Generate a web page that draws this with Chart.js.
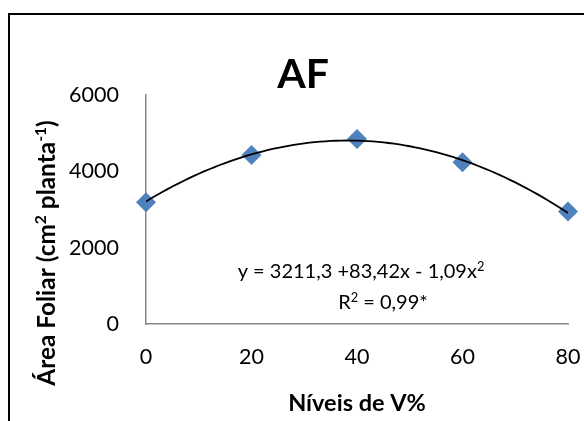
<!DOCTYPE html>
<html>
<head>
<meta charset="utf-8">
<script src="https://cdn.jsdelivr.net/npm/chart.js@4"></script>
<style>
  body { margin: 0; background: #fff; }
  canvas { display: block; }
</style>
</head>
<body>
<canvas id="grafica" width="584" height="421"></canvas>
<script>
// Níveis de saturação por bases (V%) e área foliar medida
const niveisV = [0, 20, 40, 60, 80];
const areaFoliar = [3190, 4430, 4850, 4240, 2950];

// Coeficientes da regressão quadrática: a + b·x + c·x²
const coeficientes = [3211.3, 83.42, -1.09];
const r2 = "0,99*";

const ticksX = [0, 20, 40, 60, 80];
const ticksY = [0, 2000, 4000, 6000];

const virgula = v => String(v).replace(".", ",");

// curva ajustada, amostrada a cada 1 unidade de V%
const curva = [];
for (let x = niveisV[0]; x <= niveisV[niveisV.length - 1]; x++) {
    curva.push({ x: x, y: coeficientes[0] + coeficientes[1] * x + coeficientes[2] * x * x });
}

const pontos = niveisV.map((v, i) => ({ x: v, y: areaFoliar[i] }));

// desenha um texto com partes sobrescritas, a partir de x (alinhado à esquerda)
function textoComExpoente(ctx, partes, x, y, tam, peso) {
    let pos = x;
    partes.forEach(p => {
        const t = p.sup ? tam * 0.64 : tam;
        ctx.font = `${peso} ${t}px Lato`;
        ctx.fillText(p.t, pos, p.sup ? y - tam * 0.36 : y);
        pos += ctx.measureText(p.t).width;
    });
}

function larguraPartes(ctx, partes, tam, peso) {
    let w = 0;
    partes.forEach(p => {
        ctx.font = `${peso} ${p.sup ? tam * 0.64 : tam}px Lato`;
        w += ctx.measureText(p.t).width;
    });
    return w;
}

const rotulos = {
    id: "rotulos",
    beforeDraw(chart) {
        const ctx = chart.ctx;
        ctx.save();
        ctx.fillStyle = "#fff";
        ctx.fillRect(0, 0, chart.width, chart.height);
        // moldura do gráfico
        ctx.strokeStyle = "#000";
        ctx.lineWidth = 2;
        ctx.beginPath();
        ctx.moveTo(9, chart.height + 5);
        ctx.lineTo(9, 14);
        ctx.lineTo(chart.width + 5, 14);
        ctx.stroke();
        ctx.restore();
    },
    afterDraw(chart) {
        const ctx = chart.ctx;
        const area = chart.chartArea;
        ctx.save();
        ctx.fillStyle = "#000";
        ctx.textBaseline = "alphabetic";

        // título
        ctx.font = "bold 41px Lato";
        ctx.textAlign = "center";
        ctx.fillText("AF", 303, 88);

        // título do eixo x
        ctx.font = "bold 23.5px Lato";
        ctx.fillText("Níveis de V%", (area.left + area.right) / 2, 411);

        // título do eixo y, girado
        ctx.textAlign = "left";
        const partesY = [
            { t: "Área Foliar (cm" }, { t: "2", sup: true },
            { t: " planta" }, { t: "-1", sup: true }, { t: ")" }
        ];
        const wy = larguraPartes(ctx, partesY, 24.4, "bold");
        ctx.translate(55, 253);
        ctx.rotate(-Math.PI / 2);
        textoComExpoente(ctx, partesY, -wy / 2, 0, 24.4, "bold");
        ctx.setTransform(1, 0, 0, 1, 0, 0);

        // equação e R²
        const eq = [
            { t: `y = ${virgula(coeficientes[0])} +${virgula(coeficientes[1])}x - ${virgula(-coeficientes[2])}x` },
            { t: "2", sup: true }
        ];
        const linhaR = [{ t: "R" }, { t: "2", sup: true }, { t: " = " + r2 }];
        const w1 = larguraPartes(ctx, eq, 20, "normal");
        const w2 = larguraPartes(ctx, linhaR, 20, "normal");
        textoComExpoente(ctx, eq, 361 - w1 / 2, 278, 20, "normal");
        textoComExpoente(ctx, linhaR, 383 - w2 / 2, 309, 20, "normal");
        ctx.restore();
    }
};

const fonteTicks = { family: "Lato", size: 21.5 };

new Chart(document.getElementById("grafica").getContext("2d"), {
    type: "scatter",
    data: {
        datasets: [
            {
                label: "Ajuste",
                data: curva,
                showLine: true,
                borderColor: "#000",
                borderWidth: 1.8,
                pointRadius: 0,
                fill: false,
                order: 0
            },
            {
                label: "AF",
                data: pontos,
                pointStyle: "rectRot",
                pointRadius: 10,
                backgroundColor: "#4F81BD",
                borderColor: "#4F81BD",
                borderWidth: 0,
                clip: false,
                order: 1
            }
        ]
    },
    options: {
        responsive: false,
        animation: false,
        layout: { padding: { top: 95, right: 16, left: 0, bottom: 0 } },
        plugins: {
            legend: { display: false },
            tooltip: { enabled: false }
        },
        scales: {
            x: {
                type: "linear",
                min: ticksX[0],
                max: ticksX[ticksX.length - 1],
                afterBuildTicks: s => { s.ticks = ticksX.map(v => ({ value: v })); },
                ticks: { font: fonteTicks, color: "#000", padding: 20, callback: v => String(v) },
                grid: { display: false, drawTicks: false },
                border: { color: "#868686", width: 1.5 },
                afterFit: s => { s.height = 97; s.paddingLeft = 0; s.paddingRight = 0; }
            },
            y: {
                min: ticksY[0],
                max: ticksY[ticksY.length - 1],
                afterBuildTicks: s => { s.ticks = ticksY.map(v => ({ value: v })); },
                ticks: { font: fonteTicks, color: "#000", padding: 27, callback: v => String(v) },
                grid: { display: false, drawTicks: false },
                border: { color: "#868686", width: 1.5 },
                afterFit: s => { s.width = 146; s.paddingTop = 0; s.paddingBottom = 0; }
            }
        }
    },
    plugins: [rotulos]
});
</script>
</body>
</html>
